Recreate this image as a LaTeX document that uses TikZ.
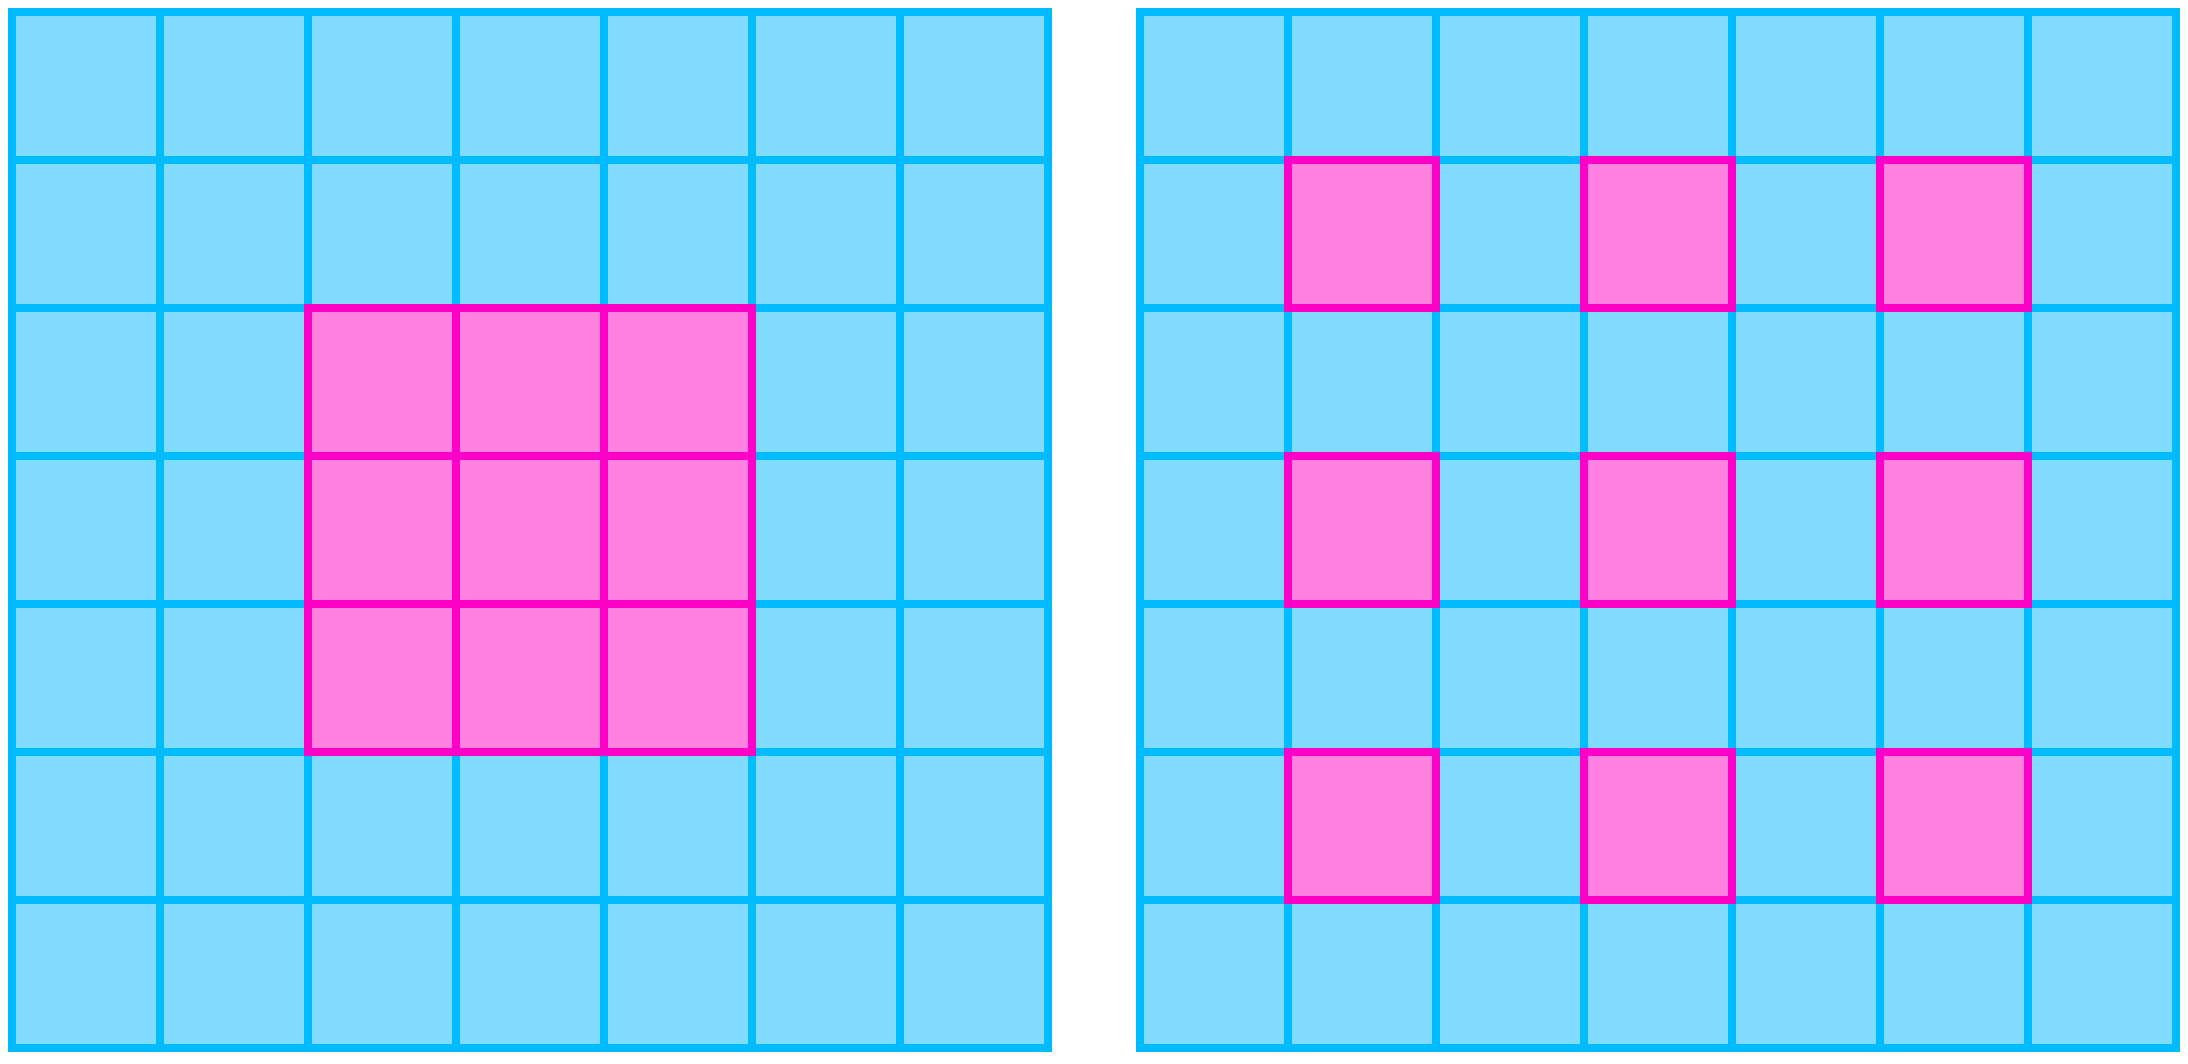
\documentclass[tikz,border=0pt]{standalone}
\definecolor{cellblue}{RGB}{128,219,255}
\definecolor{lineblue}{RGB}{0,187,255}
\definecolor{cellpink}{RGB}{255,128,222}
\definecolor{linepink}{RGB}{255,0,200}
\begin{document}
\begin{tikzpicture}[x=1pt,y=-1pt,
  bluecell/.style={fill=cellblue,draw=lineblue,line width=8pt},
  pinkcell/.style={fill=cellpink,draw=linepink,line width=8pt}]
\useasboundingbox (0,0) rectangle (2188,1064);
% left grid
\foreach \i in {0,...,6}{
  \foreach \j in {0,...,6}{
    \draw[bluecell] ({12+148*\i},{12+148*\j}) rectangle ++(148,148);
  }
}
\foreach \i in {2,3,4}{
  \foreach \j in {2,3,4}{
    \draw[pinkcell] ({12+148*\i},{12+148*\j}) rectangle ++(148,148);
  }
}
% right grid
\foreach \i in {0,...,6}{
  \foreach \j in {0,...,6}{
    \draw[bluecell] ({1140+148*\i},{12+148*\j}) rectangle ++(148,148);
  }
}
\foreach \i in {1,3,5}{
  \foreach \j in {1,3,5}{
    \draw[pinkcell] ({1140+148*\i},{12+148*\j}) rectangle ++(148,148);
  }
}
\end{tikzpicture}
\end{document}
